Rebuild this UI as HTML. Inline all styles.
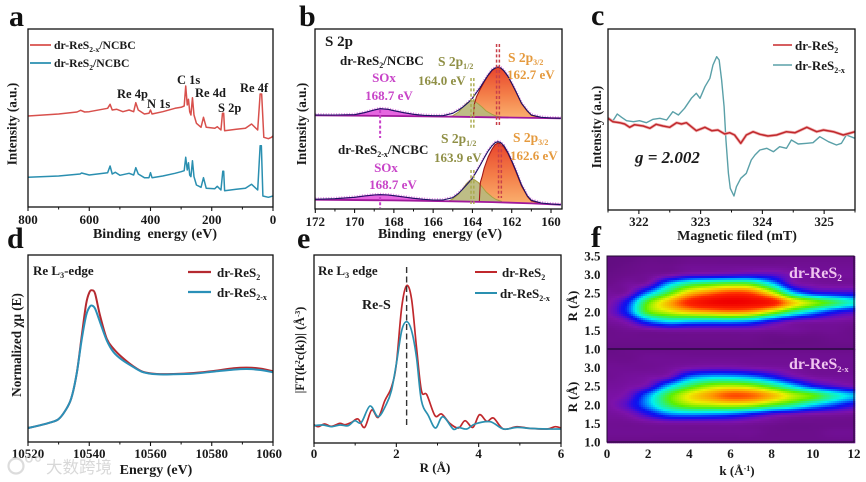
<!DOCTYPE html>
<html lang="en">
<head>
<meta charset="utf-8">
<title>ReS2 characterization panels</title>
<style>
html,body{margin:0;padding:0;background:#fff;width:866px;height:482px;overflow:hidden}
svg{display:block;filter:blur(0.35px)}
text{font-family:"Liberation Serif","Noto Serif CJK SC",serif;font-weight:700;fill:#1a1a1a;font-size:12.5px}
.tick{font-size:13px;text-anchor:middle}
.axt{font-size:14px;text-anchor:middle}
.yt{font-size:13.2px;text-anchor:middle}
.pl{font-size:30px;fill:#111}
.leg{font-size:13px}
.lega{font-size:11.7px}
.lab{font-size:12.5px}
</style>
</head>
<body>
<svg id="fig" xmlns="http://www.w3.org/2000/svg" width="866" height="482" viewBox="0 0 866 482">
<defs>
<linearGradient id="orangeGrad" x1="0" y1="0" x2="0" y2="1"><stop offset="0" stop-color="#e8452c"/><stop offset="0.55" stop-color="#f4804a"/><stop offset="1" stop-color="#fab06e"/></linearGradient>
<clipPath id="clipA"><rect x="28" y="29" width="245" height="178"/></clipPath>
<clipPath id="clipB"><rect x="315" y="29" width="247" height="180"/></clipPath>
<clipPath id="clipC"><rect x="608" y="29" width="247" height="181"/></clipPath>
<clipPath id="clipD"><rect x="28" y="255" width="245" height="187"/></clipPath>
<clipPath id="clipE"><rect x="314" y="255" width="247" height="188"/></clipPath>
</defs>

<g id="layerF"></g>
<g id="layerMarks"></g>
<g id="layerAxes"></g>

<!-- panel letters -->
<text class="pl" x="9" y="26">a</text>
<text class="pl" x="299" y="26">b</text>
<text class="pl" x="591" y="25">c</text>
<text class="pl" x="7" y="248">d</text>
<text class="pl" x="297" y="248">e</text>
<text class="pl" x="591" y="247">f</text>

<!-- panel a text -->
<line x1="30" x2="51" y1="45" y2="45" stroke="#d8504c" stroke-width="1.8"/>
<text class="lega" x="54" y="49">dr-ReS<tspan dy="3" font-size="7.5">2-x</tspan><tspan dy="-3">/NCBC</tspan></text>
<line x1="30" x2="51" y1="63" y2="63" stroke="#2a8fb0" stroke-width="1.8"/>
<text class="lega" x="54" y="67">dr-ReS<tspan dy="3" font-size="7.5">2</tspan><tspan dy="-3">/NCBC</tspan></text>
<text class="lab" x="177" y="84">C 1s</text>
<text class="lab" x="117" y="98">Re 4p</text>
<text class="lab" x="147" y="108">N 1s</text>
<text class="lab" x="195" y="97">Re 4d</text>
<text class="lab" x="218" y="112">S 2p</text>
<text class="lab" x="240" y="92">Re 4f</text>
<text class="yt" transform="translate(16.5,124) rotate(-90)">Intensity (a.u.)</text>
<text class="axt" x="155" y="238">Binding&#160; energy (eV)</text>

<!-- panel b text -->
<text x="325" y="46" style="font-size:15px">S 2p</text>
<text class="leg" x="340" y="65">dr-ReS<tspan dy="3" font-size="8">2</tspan><tspan dy="-3">/NCBC</tspan></text>
<text style="fill:#c844c8;font-size:13px;text-anchor:middle" x="384" y="82">SOx</text>
<text style="fill:#c844c8;font-size:13px;text-anchor:middle" x="389" y="100">168.7 eV</text>
<text style="fill:#8f8f45;font-size:13.5px" x="438" y="66">S 2p<tspan dy="3" font-size="8">1/2</tspan></text>
<text style="fill:#8f8f45;font-size:13px" x="418" y="85">164.0 eV</text>
<text style="fill:#e59a3e;font-size:13.5px" x="508" y="62">S 2p<tspan dy="3" font-size="8">3/2</tspan></text>
<text style="fill:#e59a3e;font-size:13px" x="507" y="79">162.7 eV</text>
<text class="leg" x="338" y="154">dr-ReS<tspan dy="3" font-size="8">2-x</tspan><tspan dy="-3">/NCBC</tspan></text>
<text style="fill:#c844c8;font-size:13px;text-anchor:middle" x="386" y="172">SOx</text>
<text style="fill:#c844c8;font-size:13px;text-anchor:middle" x="393" y="189">168.7 eV</text>
<text style="fill:#8f8f45;font-size:13.5px" x="441" y="143">S 2p<tspan dy="3" font-size="8">1/2</tspan></text>
<text style="fill:#8f8f45;font-size:13px" x="434" y="162">163.9 eV</text>
<text style="fill:#e59a3e;font-size:13.5px" x="513" y="142">S 2p<tspan dy="3" font-size="8">3/2</tspan></text>
<text style="fill:#e59a3e;font-size:13px" x="510" y="160">162.6 eV</text>
<text class="yt" transform="translate(306,124) rotate(-90)">Intensity (a.u.)</text>
<text class="axt" x="440" y="238">Binding&#160; energy (eV)</text>

<!-- panel c text -->
<line x1="773" x2="792" y1="45" y2="45" stroke="#c8282c" stroke-width="1.6"/>
<text class="leg" x="795" y="50">dr-ReS<tspan dy="3" font-size="8">2</tspan></text>
<line x1="773" x2="792" y1="65" y2="65" stroke="#5aa0a8" stroke-width="1.4"/>
<text class="leg" x="795" y="70">dr-ReS<tspan dy="3" font-size="8">2-x</tspan></text>
<text x="635" y="163" style="font-size:17px;font-style:italic">g = 2.002</text>
<text class="yt" transform="translate(601,127) rotate(-90)">Intensity (a.u.)</text>
<text class="axt" x="737" y="240">Magnetic filed (mT)</text>

<!-- panel d text -->
<text class="leg" x="33" y="275">Re L<tspan dy="3" font-size="8">3</tspan><tspan dy="-3">-edge</tspan></text>
<line x1="188" x2="211" y1="272" y2="272" stroke="#b52a30" stroke-width="2.2"/>
<text class="leg" x="217" y="277">dr-ReS<tspan dy="3" font-size="8">2</tspan></text>
<line x1="188" x2="211" y1="292" y2="292" stroke="#2a90b8" stroke-width="2.2"/>
<text class="leg" x="217" y="297">dr-ReS<tspan dy="3" font-size="8">2-x</tspan></text>
<text class="yt" transform="translate(21,345) rotate(-90)">Normalized χμ (E)</text>
<text class="axt" x="156" y="474">Energy (eV)</text>

<!-- panel e text -->
<text class="leg" x="318" y="275">Re L<tspan dy="3" font-size="8">3</tspan><tspan dy="-3"> edge</tspan></text>
<text x="362" y="309" style="font-size:14px">Re-S</text>
<line x1="475" x2="497" y1="272" y2="272" stroke="#c0282c" stroke-width="1.9"/>
<text class="leg" x="502" y="277">dr-ReS<tspan dy="3" font-size="8">2</tspan></text>
<line x1="475" x2="497" y1="293" y2="293" stroke="#2a90b0" stroke-width="1.9"/>
<text class="leg" x="500" y="298">dr-ReS<tspan dy="3" font-size="8">2-x</tspan></text>
<text class="yt" style="font-size:12.3px" transform="translate(304,350) rotate(-90)">|FT(k<tspan dy="-4" font-size="7.5">2</tspan><tspan dy="4">c(k))| (Å</tspan><tspan dy="-4" font-size="7.5">-3</tspan><tspan dy="4">)</tspan></text>
<text class="tick" x="435" y="472">R (Å)</text>

<!-- panel f text -->
<text x="789" y="278" style="font-size:16px;fill:#efc4ef">dr-ReS<tspan dy="3" font-size="9.5">2</tspan></text>
<text x="789" y="369" style="font-size:16px;fill:#efc4ef">dr-ReS<tspan dy="3" font-size="8.5">2-x</tspan></text>
<text class="yt" style="font-size:13px" transform="translate(577,306) rotate(-90)">R (Å)</text>
<text class="yt" style="font-size:13px" transform="translate(577,397) rotate(-90)">R (Å)</text>
<text class="tick" x="737" y="475">k (Å<tspan dy="-4" font-size="8">-1</tspan><tspan dy="4">)</tspan></text>

<!-- watermark -->
<g opacity="0.8">
<circle cx="16" cy="466" r="7.5" fill="none" stroke="#d4d4d4" stroke-width="2.2"/>
<circle cx="29" cy="459" r="3" fill="none" stroke="#d4d4d4" stroke-width="1.6"/>
<circle cx="38" cy="459" r="2.2" fill="none" stroke="#d4d4d4" stroke-width="1.4"/>
<text x="46" y="473" style="font-family:'Noto Sans CJK SC',sans-serif;font-size:16.5px;font-weight:400;fill:#cfcfcf">大数跨境</text>
</g>
</svg>

<script>
// ---------- panel a : XPS survey ----------
const surveyRedBE = [800,700,640,628,615,600,540,532,525,510,490,470,455,448,440,420,405,400,395,360,320,300,290,285,280,276,272,268,263,258,250,235,227,218,190,182,170,165,161,158,120,90,70,50,42,37,30,15,5,0];
const surveyRedI  = [91,93,95,96.7,95,95.3,98.7,102.7,97,97.7,95.3,97,95.3,104.3,97,93,93.7,97,93,95.3,98.7,99.7,101,121,102,107.7,95.3,92,109.3,92,83.7,79.7,89.7,79.7,78.7,80.3,77,93.7,93.7,76.3,77.7,78.7,83,77,113,113,69.7,68.3,69.7,71];
const surveyBlueBE = [800,700,630,625,600,540,532,525,515,500,470,455,448,440,420,405,400,395,360,320,300,290,285,280,276,272,268,263,258,250,235,227,218,190,182,170,164,161,158,120,90,70,50,42,38,33,15,0];
const surveyBlueI  = [29.7,31,33,34,32,34.3,41,33,34.7,31.7,33.7,32,39.3,33,29.3,29.3,34.3,29.3,31,33.7,35.3,36.3,49.7,37,44.3,32,30.3,46.3,30.3,22,19.7,29.3,18.7,18.3,20.7,17,35.7,35.7,16.3,17.7,18.7,22.7,17,61.3,61.3,11,9.7,11];
const surveyTicks = [800,600,400,200,0];
const surveyMinorTicks = [700,500,300,100];

// ---------- panel b : S 2p fits ----------
const envBE = [172,171,170,169.5,169,168.7,168.3,168,167.5,167,166.5,166,165.5,165,164.7,164.5,164.2,164,163.8,163.6,163.4,163.2,163,162.85,162.7,162.55,162.4,162.2,162,161.8,161.5,161.2,161,160.5,160,159.5];
const envUpper = [94,94,94.3,96.3,99,100.3,99.7,98.3,96.3,94.7,93.7,93.3,93.3,95.7,99,101.7,106.7,110.7,116.3,121.7,128,134,139,141,142,141,138.3,133,125.7,118,105.7,98,94,91.7,91,90.7];
const envLower = [9.7,10.3,11.7,13,14,14.3,14,13.3,12,10.7,9.7,9,9,11.3,15.7,19.7,26.3,30.7,37.3,44,51.3,58,63.3,66.3,67.3,66.3,63.3,56.7,48.3,39,24,13,8.7,6,5,4.3];
const baseBE = [172,168,165,163,161,159.5];
const baseUpper = [93.7,93,92.3,91.7,91.1,90.7];
const baseLower = [9.3,8.6,7.7,6.9,5.6,4.3];
const s32UpperBE = [163.95,163.9,163.8,163.6,163.4,163.2,163,162.85,162.7,162.55,162.4,162.2,162,161.8,161.5,161.2,161,160.5];
const s32Upper = [92,105,112,120,127,133.5,138.5,140.7,141.7,140.7,138,132.7,125.4,117.7,105.4,97.7,93.7,91.4];
const s32LowerBE = [163.65,163.6,163.5,163.4,163.2,163,162.85,162.7,162.55,162.4,162.2,162,161.8,161.5,161.2,161,160.5];
const s32Lower = [7,26.3,33,41,52,60,64.3,66,65,62,55.7,47.3,38,23,12.5,8,5.8];
const s12BE = [165.2,165,164.7,164.5,164.3,164.1,164,163.9,163.7,163.5,163.3,163,162.8,162.5];
const s12Upper = [92.5,93.3,97,101.7,105.7,108,108.3,108,105,101.7,98,94.7,93,92];
const s12Lower = [8,10,15,20,25.5,29,29.7,29.3,26.5,22,17,12,9.5,7.5];
const soxBE = [171,170,169.5,169,168.7,168.3,168,167.5,167,166.5];
const soxUpper = [93.8,94.3,96.3,99,100.3,99.7,98.3,96.3,94.7,93.3];
const soxLower = [10.3,11.7,13,14,14.3,14,13.3,12,10.7,9.7];
const fitTicks = [172,170,168,166,164,162,160];
const fitMinorTicks = [171,169,167,165,163,161];
const refEnergyUpper = [162.7,164.0,168.7];
const refEnergyLower = [162.6,164.0,168.7];

// ---------- panel c : EPR ----------
const eprTealField = [321.5,321.58,321.65,321.72,321.8,321.91,322.01,322.12,322.23,322.34,322.45,322.55,322.64,322.74,322.85,322.93,322.99,323.07,323.15,323.2,323.26,323.3,323.34,323.38,323.41,323.45,323.48,323.54,323.58,323.65,323.74,323.82,323.88,323.96,324.07,324.18,324.28,324.39,324.47,324.58,324.72,324.82,324.93,325.07,325.2,325.28,325.36,325.5];
const eprTeal = [92.7,89.3,96,92.7,89.3,88.3,89.3,87.3,90.7,91.7,90,98.3,95,101.7,111.7,116.7,111.7,123.3,131.7,145,153.3,150,130,103.3,70,36.7,21.7,14,23.3,31.7,36.7,50,55,60,61.7,58.3,63.3,61.7,70,66,66.7,67.3,73.3,68.3,65,66.7,75,71.7];
const eprRedField = [321.5,321.58,321.69,321.77,321.85,321.93,322.07,322.18,322.28,322.39,322.5,322.61,322.69,322.77,322.85,322.93,323.07,323.18,323.28,323.39,323.47,323.55,323.65,323.74,323.85,323.96,324.09,324.23,324.39,324.53,324.72,324.88,324.99,325.15,325.31,325.5];
const eprRed = [91.7,88.3,87.3,86,82.7,85.3,84,81.7,85.7,84,82.7,87.3,86,87.3,83.3,79.3,82.7,79.3,80,76,77.3,75,66.7,75,78.3,75.7,74,75,78.3,77.3,82.7,78.3,80,78.3,75,78.3];
const eprTicks = [322,323,324,325];
const eprMinorTicks = [321.5,322.5,323.5,324.5,325.5];

// ---------- panel d : XANES ----------
const xanesE = [10520,10523.9,10527.2,10529.9,10532.1,10534.1,10535.9,10537.5,10539,10540.1,10540.9,10541.9,10543.5,10545.7,10547.9,10550.6,10554.4,10557.7,10562.1,10567.5,10574.1,10580.6,10587.1,10591.5,10595.9,10600];
const xanesRed = [14,16.7,19.4,22.7,31,43.4,68.4,105,138.4,150,151.7,148.4,126.7,103.4,93.4,85,75.7,70,68,68,69,71,73.7,74.4,73.4,70.7];
const xanesBlue = [14,16.7,19.4,22.7,31,43.4,68.4,101.7,126.7,135,136.4,133.4,120,101.7,90,82.4,75,69.7,67.7,67.7,68.4,70.4,72.4,73,72,69.7];
const xanesTicks = [10520,10540,10560,10580,10600];
const xanesTickLabels = ['10520','10540','10560','10580','1060'];
const xanesMinorTicks = [10530,10550,10570,10590];

// ---------- panel e : EXAFS ----------
const exafsRedR = [0,0.1,0.26,0.42,0.63,0.75,0.91,1.07,1.23,1.4,1.56,1.72,1.88,2,2.13,2.25,2.37,2.49,2.61,2.74,2.94,3.1,3.3,3.51,3.67,3.86,4.02,4.2,4.36,4.6,4.93,5.25,5.66,5.86,6];
const exafsRed = [18.3,16.3,19,16.6,19.6,18.3,20.6,24,15.6,33,25.6,42.3,55.6,79,135.6,157.3,144,95.6,52.3,48.3,27.3,29,19.6,15,22.3,15.6,28.3,21.6,25,14,16.3,14.6,14,16.3,15];
const exafsBlueR = [0,0.22,0.42,0.63,0.83,0.99,1.15,1.36,1.56,1.76,1.88,2,2.13,2.25,2.37,2.49,2.61,2.78,2.95,3.13,3.38,3.51,3.71,3.91,4.28,4.6,4.93,5.25,5.66,6];
const exafsBlue = [17.3,18,16.3,18,17.3,22.3,20.6,37,26.3,39,52.3,79,112.3,121.3,112.3,85.6,42.3,27.3,15,26.3,14,15.6,14,19,21.3,14,15.6,14.6,14,14];
const exafsTicks = [0,2,4,6];
const exafsMinorTicks = [1,3,5];
const reSDistance = [2.25];

// ---------- panel f : wavelet transform maps ----------
const wtK = [0,1,2,3,4,5,6,7,8,9,10,11,12];
const wtR = [3.5,3.25,3.0,2.75,2.5,2.25,2.0,1.75,1.5,1.25,1.0];
const wtUpper = [
[.03,.03,.04,.04,.05,.05,.05,.05,.05,.05,.05,.05,.05],
[.03,.04,.05,.05,.06,.06,.06,.06,.06,.06,.06,.06,.06],
[.04,.05,.06,.08,.11,.12,.13,.14,.13,.09,.07,.07,.07],
[.05,.07,.10,.29,.42,.47,.50,.48,.32,.12,.08,.07,.07],
[.07,.09,.28,.48,.68,.78,.85,.82,.62,.33,.20,.17,.16],
[.08,.20,.50,.70,.88,.97,1.0,.98,.92,.68,.55,.45,.35],
[.09,.22,.50,.60,.68,.72,.75,.72,.58,.42,.30,.20,.15],
[.07,.11,.25,.33,.31,.30,.30,.27,.18,.11,.09,.08,.07],
[.05,.06,.07,.08,.08,.08,.08,.08,.07,.07,.06,.06,.05],
[.05,.05,.05,.05,.05,.05,.05,.05,.04,.04,.04,.05,.05],
[.04,.04,.04,.04,.04,.04,.04,.04,.04,.04,.04,.04,.04]];
const wtLower = [
[.04,.05,.05,.05,.05,.05,.05,.05,.05,.05,.05,.05,.05],
[.05,.05,.06,.06,.06,.06,.06,.06,.06,.06,.06,.06,.06],
[.06,.06,.06,.07,.09,.10,.10,.09,.08,.07,.06,.06,.06],
[.06,.07,.08,.11,.25,.30,.30,.27,.20,.12,.08,.07,.07],
[.07,.08,.12,.30,.45,.55,.58,.55,.45,.32,.20,.14,.10],
[.08,.11,.27,.48,.63,.73,.82,.80,.70,.58,.50,.38,.30],
[.08,.14,.28,.45,.55,.58,.60,.58,.50,.42,.32,.24,.17],
[.07,.09,.17,.26,.28,.27,.25,.20,.14,.11,.09,.08,.07],
[.06,.06,.07,.08,.08,.08,.08,.07,.06,.05,.05,.05,.05],
[.06,.06,.06,.06,.06,.06,.06,.06,.05,.05,.05,.06,.06],
[.05,.05,.05,.05,.05,.05,.05,.05,.05,.05,.05,.05,.05]];
const wtKTicks = [0,2,4,6,8,10,12];
const wtRTicksUpper = ['3.5','3.0','2.5','2.0','1.5','1.0'];
const wtRTicksLower = ['3.0','2.5','2.0','1.5','1.0'];
const colorStops = [[0,85,12,115],[.05,108,14,140],[.09,125,18,170],[.13,90,14,200],[.17,30,14,235],[.2,10,20,240],[.27,0,140,255],[.33,0,240,240],[.42,40,240,130],[.5,90,240,0],[.62,235,240,0],[.74,255,150,0],[.86,255,40,0],[1,240,0,0]];

// ---------- helpers ----------
const NS = 'http://www.w3.org/2000/svg';
const marks = document.getElementById('layerMarks');
const axesLayer = document.getElementById('layerAxes');
const heatLayer = document.getElementById('layerF');

function make(tag, attrs, parent) {
  const el = document.createElementNS(NS, tag);
  for (const k in attrs) el.setAttribute(k, attrs[k]);
  parent.appendChild(el);
  return el;
}
function scale(d0, d1, r0, r1) {
  return v => r0 + (v - d0) * (r1 - r0) / (d1 - d0);
}
function points(xs, ys, sx, sy) {
  return xs.map((x, i) => [sx(x), sy(ys[i])]);
}
function linePath(pts) {
  return 'M' + pts.map(p => p[0].toFixed(2) + ' ' + p[1].toFixed(2)).join('L');
}
function smoothPath(pts) {
  let d = 'M' + pts[0][0].toFixed(2) + ' ' + pts[0][1].toFixed(2);
  for (let i = 0; i < pts.length - 1; i++) {
    const p0 = pts[Math.max(i - 1, 0)], p1 = pts[i], p2 = pts[i + 1], p3 = pts[Math.min(i + 2, pts.length - 1)];
    const c1x = p1[0] + (p2[0] - p0[0]) / 6, c1y = p1[1] + (p2[1] - p0[1]) / 6;
    const c2x = p2[0] - (p3[0] - p1[0]) / 6, c2y = p2[1] - (p3[1] - p1[1]) / 6;
    d += 'C' + c1x.toFixed(2) + ' ' + c1y.toFixed(2) + ' ' + c2x.toFixed(2) + ' ' + c2y.toFixed(2) + ' ' + p2[0].toFixed(2) + ' ' + p2[1].toFixed(2);
  }
  return d;
}
function interp(xs, ys, x) {
  for (let i = 0; i < xs.length - 1; i++) {
    const a = xs[i], b = xs[i + 1];
    if ((x >= Math.min(a, b)) && (x <= Math.max(a, b))) return ys[i] + (ys[i + 1] - ys[i]) * (x - a) / (b - a);
  }
  return ys[ys.length - 1];
}
function drawAxes(prefix, box, sx, ticks, labels, minor, labelY) {
  const frame = make('rect', {x: box[0], y: box[1], width: box[2] - box[0], height: box[3] - box[1], fill: 'none', stroke: '#111', 'stroke-width': 1.3}, axesLayer);
  
  
  ticks.forEach((t, i) => {
    const tk = make('line', {x1: sx(t), x2: sx(t), y1: box[3], y2: box[3] + 4, stroke: '#111', 'stroke-width': 1.1}, axesLayer);
    
    
    const lb = make('text', {x: sx(t) + (labels[i] === '1060' ? -4 : 0), y: labelY, class: 'tick'}, axesLayer);
    lb.textContent = labels[i];
    
    
  });
  minor.forEach(t => {
    const tk = make('line', {x1: sx(t), x2: sx(t), y1: box[3], y2: box[3] + 2.5, stroke: '#111', 'stroke-width': 1}, axesLayer);
    
    
  });
}
function drawLine(name, d, stroke, width, clip) {
  const p = make('path', {d: d, fill: 'none', stroke: stroke, 'stroke-width': width, 'stroke-linejoin': 'round', 'clip-path': 'url(#' + clip + ')'}, marks);
  
  
  return p;
}

// ---------- panel a ----------
const xA = scale(800, 0, 28, 273);
const yA = scale(0, 178, 207, 29);
drawLine('series-res2x-ncbc', linePath(points(surveyRedBE, surveyRedI, xA, yA)), '#d8504c', 1.5, 'clipA');
drawLine('series-res2-ncbc', linePath(points(surveyBlueBE, surveyBlueI, xA, yA)), '#2a8fb0', 1.5, 'clipA');
drawAxes('panel-a', [28, 29, 273, 207], xA, surveyTicks, surveyTicks.map(String), surveyMinorTicks, 224);

// ---------- panel b ----------
const xB = scale(172, 160, 315.3, 551);
const yB = scale(0, 180, 209, 29);
function drawFit(tag, env, base, s32x, s32, s12, sox) {
  const baseAt = x => interp(baseBE, base, x);
  const fill = (xs, ys) => {
    const top = points(xs, ys, xB, yB);
    const bot = xs.slice().reverse().map(x => [xB(x), yB(baseAt(x))]);
    return linePath(top.concat(bot)) + 'Z';
  };
  const dots = drawLine('fit-' + tag + '-raw-data', linePath(points(envBE, env.map(v => v + 0.8), xB, yB)), '#e48ae4', 2.2, 'clipB');
  dots.setAttribute('stroke-dasharray', '1 1.6');
  const so = make('path', {d: fill(soxBE, sox), fill: '#e040d8', 'fill-opacity': 0.8, 'clip-path': 'url(#clipB)'}, marks);
  
  
  const or = make('path', {d: fill(s32x, s32), fill: 'url(#orangeGrad)', 'clip-path': 'url(#clipB)'}, marks);
  
  
  const ol = make('path', {d: fill(s12BE, s12), fill: '#b9b77c', 'fill-opacity': 0.92, 'clip-path': 'url(#clipB)'}, marks);
  
  
  drawLine('fit-' + tag + '-s2p12-line', linePath(points(s12BE, s12, xB, yB)), '#a9a040', 1, 'clipB');
  drawLine('fit-' + tag + '-s2p32-line', linePath(points(s32x, s32, xB, yB)), '#a01818', 1.1, 'clipB');
  drawLine('fit-' + tag + '-baseline', linePath(points(baseBE, base, xB, yB)), '#a0189c', 1.8, 'clipB');
  drawLine('fit-' + tag + '-sox-line', linePath(points(soxBE, sox, xB, yB)), '#c020c0', 1.2, 'clipB');
  drawLine('fit-' + tag + '-envelope', linePath(points(envBE, env, xB, yB)), '#1c1464', 1.1, 'clipB');
}
drawFit('upper', envUpper, baseUpper, s32UpperBE, s32Upper, s12Upper, soxUpper);
drawFit('lower', envLower, baseLower, s32LowerBE, s32Lower, s12Lower, soxLower);
function refLine(name, be, y1, y2, color, offset, width) {
  const l = make('line', {x1: xB(be) + offset, x2: xB(be) + offset, y1: y1, y2: y2, stroke: color, 'stroke-width': width, 'stroke-dasharray': '3 2.2'}, marks);
  
  
}
refLine('ref-line-s2p32-upper-left', refEnergyUpper[0], 44, 126, '#c8404a', -1.4, 1.5);
refLine('ref-line-s2p32-upper-right', refEnergyUpper[0], 44, 126, '#c8404a', 1.4, 1.5);
refLine('ref-line-s2p32-lower-left', refEnergyLower[0], 144, 198, '#c8404a', -1.4, 1.5);
refLine('ref-line-s2p32-lower-right', refEnergyLower[0], 144, 198, '#c8404a', 1.4, 1.5);
refLine('ref-line-s2p12-upper-left', refEnergyUpper[1], 78, 130, '#a8a848', -1.4, 1.4);
refLine('ref-line-s2p12-upper-right', refEnergyUpper[1], 78, 130, '#a8a848', 1.4, 1.4);
refLine('ref-line-s2p12-lower-left', refEnergyLower[1], 170, 204, '#a8a848', -1.4, 1.4);
refLine('ref-line-s2p12-lower-right', refEnergyLower[1], 170, 204, '#a8a848', 1.4, 1.4);
refLine('ref-line-sox-upper', refEnergyUpper[2], 110, 138, '#c840c8', 0, 2);
refLine('ref-line-sox-lower', refEnergyLower[2], 197, 208, '#c840c8', 0, 2);
drawAxes('panel-b', [315, 29, 562, 209], xB, fitTicks, fitTicks.map(String), fitMinorTicks, 226);

// ---------- panel c ----------
const xC = scale(321.5, 325.5, 608, 855);
const yC = scale(0, 181, 210, 29);
drawLine('series-res2x-epr', linePath(points(eprTealField, eprTeal, xC, yC)), '#5aa0a8', 1.4, 'clipC');
drawLine('series-res2-epr-halo', linePath(points(eprRedField, eprRed, xC, yC)), '#f0b0b0', 3, 'clipC');
drawLine('series-res2-epr', linePath(points(eprRedField, eprRed, xC, yC)), '#c0282c', 1.5, 'clipC');
drawAxes('panel-c', [608, 29, 855, 210], xC, eprTicks, eprTicks.map(String), eprMinorTicks, 226);

// ---------- panel d ----------
const xD = scale(10520, 10600, 28, 273);
const yD = scale(0, 187, 442, 255);
drawLine('series-res2-xanes', smoothPath(points(xanesE, xanesRed, xD, yD)), '#b52a30', 2, 'clipD');
drawLine('series-res2x-xanes', smoothPath(points(xanesE, xanesBlue, xD, yD)), '#2a90b8', 2, 'clipD');
drawAxes('panel-d', [28, 255, 273, 442], xD, xanesTicks, xanesTickLabels, xanesMinorTicks, 458);

// ---------- panel e ----------
const xE = scale(0, 6, 314, 561);
const yE = scale(0, 188, 443, 255);
drawLine('series-res2-exafs', smoothPath(points(exafsRedR, exafsRed, xE, yE)), '#c0282c', 1.7, 'clipE');
drawLine('series-res2x-exafs', smoothPath(points(exafsBlueR, exafsBlue, xE, yE)), '#2a90b0', 1.7, 'clipE');
const reS = make('line', {x1: xE(reSDistance[0]), x2: xE(reSDistance[0]), y1: 267, y2: 428, stroke: '#333', 'stroke-width': 1.4, 'stroke-dasharray': '6 3.5'}, marks);


drawAxes('panel-e', [314, 255, 561, 443], xE, exafsTicks, exafsTicks.map(String), exafsMinorTicks, 458);

// ---------- panel f ----------
function colorOf(v) {
  v = Math.max(0, Math.min(1, v));
  for (let i = 0; i < colorStops.length - 1; i++) {
    const a = colorStops[i], b = colorStops[i + 1];
    if (v <= b[0]) {
      const t = (v - a[0]) / (b[0] - a[0]);
      return 'rgb(' + [1, 2, 3].map(j => Math.round(a[j] + (b[j] - a[j]) * t)).join(',') + ')';
    }
  }
  return 'rgb(240,0,0)';
}
function cubic(a, b, c, d, t) {
  return b + 0.5 * t * (c - a + t * (2 * a - 5 * b + 4 * c - d + t * (3 * (b - c) + d - a)));
}
function sampleGrid(grid, k, r) {
  const gx = (k - wtK[0]) / (wtK[1] - wtK[0]);
  const gy = (wtR[0] - r) / (wtR[0] - wtR[1]);
  const ix = Math.min(Math.floor(gx), wtK.length - 2), iy = Math.min(Math.floor(gy), wtR.length - 2);
  const tx = gx - ix, ty = gy - iy;
  const at = (row, col) => grid[Math.max(0, Math.min(wtR.length - 1, row))][Math.max(0, Math.min(wtK.length - 1, col))];
  const rows = [-1, 0, 1, 2].map(dy => cubic(at(iy + dy, ix - 1), at(iy + dy, ix), at(iy + dy, ix + 1), at(iy + dy, ix + 2), tx));
  return cubic(rows[0], rows[1], rows[2], rows[3], ty);
}
const xF = scale(0, 12, 607, 854);
function drawHeat(tag, grid, top, bottom) {
  const yF = scale(3.5, 1.0, top, bottom);
  const g = make('g', {}, heatLayer);
  
  
  const step = 2;
  for (let px = 607; px < 854; px += step) {
    for (let py = top; py < bottom; py += step) {
      const k = 0 + (px + step / 2 - 607) / (854 - 607) * 12;
      const r = 3.5 - (py + step / 2 - top) / (bottom - top) * 2.5;
      const cell = make('rect', {x: px, y: py, width: step + 0.3, height: step + 0.3, fill: colorOf(sampleGrid(grid, k, r))}, g);
      
      
    }
  }
  return yF;
}
const yFU = drawHeat('res2', wtUpper, 256, 349);
const yFL = drawHeat('res2x', wtLower, 349, 442);
const fFrame = make('rect', {x: 607, y: 256, width: 247, height: 186, fill: 'none', stroke: '#220a30', 'stroke-width': 1}, axesLayer);


const fMid = make('line', {x1: 607, x2: 854, y1: 349, y2: 349, stroke: '#2a0a40', 'stroke-width': 1.4}, axesLayer);


wtKTicks.forEach(k => {
  const lb = make('text', {x: xF(k), y: 458, class: 'tick'}, axesLayer);
  lb.textContent = String(k);
  
  
});
function rLabels(list, yF) {
  list.forEach(t => {
    const lb = make('text', {x: 600.5, y: yF(parseFloat(t)) + 4.5, style: 'text-anchor:end;font-size:13px'}, axesLayer);
    lb.textContent = t;
    
    
  });
}
rLabels(wtRTicksUpper, yFU);
rLabels(wtRTicksLower, yFL);
</script>
</body>
</html>
